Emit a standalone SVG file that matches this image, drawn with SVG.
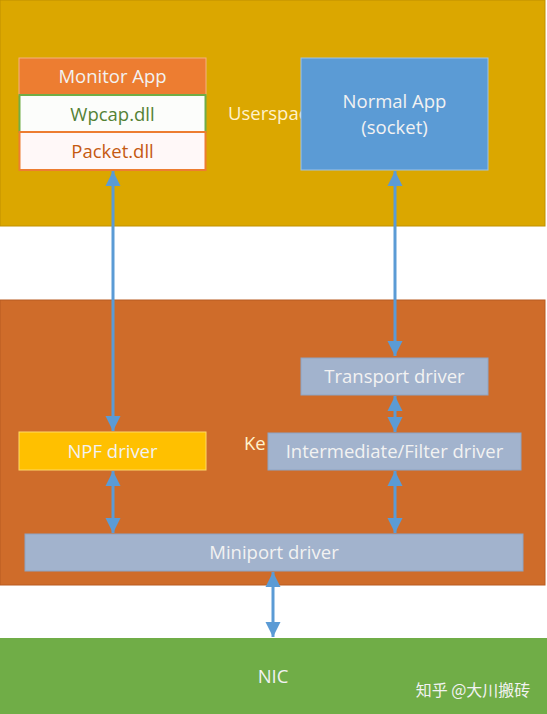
<svg xmlns="http://www.w3.org/2000/svg" width="547" height="714" viewBox="0 0 547 714">
<defs>
<marker id="ah" viewBox="0 0 10 10" refX="10" refY="5" markerWidth="5" markerHeight="5.4" orient="auto-start-reverse" markerUnits="strokeWidth">
<path d="M0,0 L10,5 L0,10 z" fill="#5B9BD5"/>
</marker>
<style>
text{font-family:"Open Sans","Liberation Sans",sans-serif;font-size:18.5px;text-anchor:middle;dominant-baseline:central}
.w{fill:#F2F2F2}
.drv{fill:#A2B3CD;stroke:#8EA4C4;stroke-width:1}
.c{stroke:#5B9BD5;stroke-width:3;fill:none;marker-start:url(#ah);marker-end:url(#ah)}
</style>
</defs>
<g id="userspace">
<rect x="0" y="0" width="545" height="226" fill="#DBA700" stroke="#C09000" stroke-width="1"/>
<text x="228" y="112" fill="#FFF2CC" style="text-anchor:start">Userspace</text>
</g>
<g id="kernel">
<rect x="0" y="300" width="545" height="285" fill="#CF6C2A" stroke="#B85A20" stroke-width="1"/>
<text x="244" y="442" fill="#FFF2CC" style="text-anchor:start">Ke</text>
</g>
<g id="nic">
<rect x="0" y="638" width="547" height="76" fill="#70AD47"/>
<text x="273" y="675" class="w">NIC</text>
<text x="473" y="689" fill="#F2F2F2" style="font-family:'Noto Sans CJK SC',sans-serif;font-size:16px">知乎 @大川搬砖</text>
</g>
<g id="monitor-app">
<rect x="19" y="58" width="187" height="37" fill="#ED7D31" stroke="#F4B183" stroke-width="1"/>
<text x="112.5" y="75" class="w">Monitor App</text>
</g>
<g id="wpcap">
<rect x="19.5" y="95" width="186" height="37" fill="#FCFDFB" stroke="#70AD47" stroke-width="2"/>
<text x="112.5" y="113" fill="#548235">Wpcap.dll</text>
</g>
<g id="packet">
<rect x="19.5" y="132" width="186" height="38" fill="#FFF8F8" stroke="#ED7D31" stroke-width="2"/>
<text x="112.5" y="150" fill="#C55A11">Packet.dll</text>
</g>
<g id="normal-app">
<rect x="301" y="58" width="187" height="112" fill="#5B9BD5" stroke="#9DC3E6" stroke-width="1"/>
<text x="394.5" y="100" class="w">Normal App</text>
<text x="394.5" y="126" class="w">(socket)</text>
</g>
<g id="transport">
<rect x="301" y="358" width="187" height="37" class="drv"/>
<text x="394.5" y="375" class="w">Transport driver</text>
</g>
<g id="intermediate">
<rect x="268" y="433" width="253" height="37" class="drv"/>
<text x="394.5" y="450" class="w">Intermediate/Filter driver</text>
</g>
<g id="npf">
<rect x="19" y="432" width="187" height="38" fill="#FFC000" stroke="#FFD966" stroke-width="1"/>
<text x="112.5" y="450" class="w">NPF driver</text>
</g>
<g id="miniport">
<rect x="25" y="534" width="498" height="37" class="drv"/>
<text x="274" y="551" class="w">Miniport driver</text>
</g>
<g id="connectors">
<line x1="113" y1="171" x2="113" y2="431" class="c"/>
<line x1="395" y1="171" x2="395" y2="356" class="c"/>
<line x1="395" y1="396" x2="395" y2="432" class="c"/>
<line x1="113" y1="471" x2="113" y2="533" class="c"/>
<line x1="395" y1="471" x2="395" y2="533" class="c"/>
<line x1="273" y1="572" x2="273" y2="637" class="c"/>
</g>
</svg>
